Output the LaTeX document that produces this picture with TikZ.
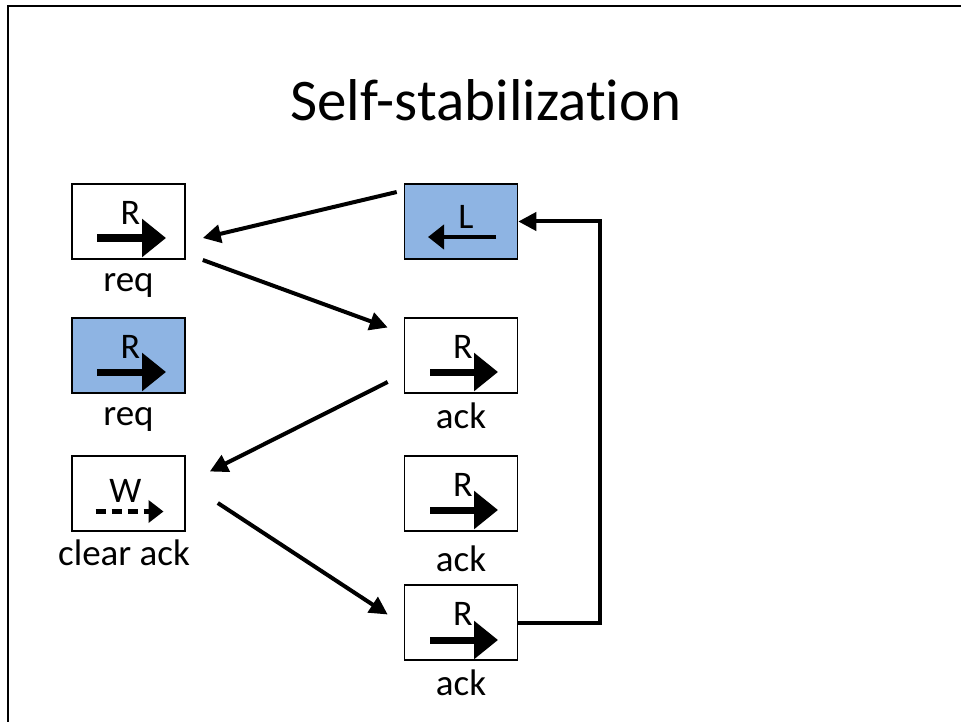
\documentclass[tikz,border=0pt]{standalone}
\usepackage{fontspec}
\setmainfont[Ligatures=NoCommon,RawFeature=-liga]{Carlito}
\usetikzlibrary{arrows.meta,calc}
\definecolor{boxblue}{HTML}{8EB4E3}
\begin{document}
\begin{tikzpicture}[x=1pt,y=-1pt,
  stbox/.style={draw=black,line width=1.6pt,minimum width=113pt,minimum height=75pt,inner sep=0pt,fill=white},
  bluebox/.style={stbox,fill=boxblue},
  lbl/.style={font=\fontsize{37}{40}\selectfont,inner sep=0pt},
  letter/.style={font=\fontsize{36}{38}\selectfont,inner sep=0pt},
  bigarr/.style={line width=7pt,-{Triangle[length=24pt,width=37pt]}},
  smallarr/.style={line width=4.5pt,-{Triangle[length=16pt,width=24pt]}},
  dasharr/.style={line width=4.5pt,dash pattern=on 10pt off 6pt,-{Triangle[length=15pt,width=22pt]}},
  conn/.style={line width=4pt,-{Triangle[length=18pt,width=18pt]}}]
\useasboundingbox (0,0) rectangle (961,722);
\fill[white] (0,0) rectangle (961,722);
\draw[line width=2.5pt] (8,722) -- (8,6) -- (961,6);
\node[font=\fontsize{59}{64}\selectfont] (title) at (486,100) {Self-stabilization};
% boxes
\node[stbox] (A) at (128.5,221.5) {};
\node[bluebox] (B) at (128.5,355.5) {};
\node[stbox] (C) at (128.5,493.5) {};
\node[bluebox] (D) at (461,221.5) {};
\node[stbox] (E) at (461,355.5) {};
\node[stbox] (F) at (461,493.5) {};
\node[stbox] (G) at (461,622.5) {};
% labels below
\node[lbl] (Al) at (128.5,285) {req};
\node[lbl] (Bl) at (128.5,419) {req};
\node[lbl] (Cl) at (124,553) {clear ack};
\node[lbl] (El) at (461,416) {ack};
\node[lbl] (Fl) at (461,559) {ack};
\node[lbl] (Gl) at (461,683) {ack};
% inner letters
\node[letter] (Ar) at ($(A)+(2,-9)$) {R};
\node[letter] (Br) at ($(B)+(2,-9)$) {R};
\node[letter] (Cw) at ($(C)+(-3,-3)$) {W};
\node[letter] (Dl) at ($(D)+(5,-5)$) {L};
\node[letter] (Er) at ($(E)+(2,-9)$) {R};
\node[letter] (Fr) at ($(F)+(2,-9)$) {R};
\node[letter] (Gr) at ($(G)+(2,-9)$) {R};
% inner arrows
\draw[bigarr] ($(A)+(-31.5,16.5)$) -- ($(A)+(37.5,16.5)$);
\draw[bigarr] ($(B)+(-31.5,16.5)$) -- ($(B)+(37.5,16.5)$);
\draw[bigarr] ($(E)+(-31,16.5)$) -- ($(E)+(37,16.5)$);
\draw[bigarr] ($(F)+(-31,16.5)$) -- ($(F)+(37,16.5)$);
\draw[bigarr] ($(G)+(-31,17.5)$) -- ($(G)+(37,17.5)$);
\draw[smallarr] ($(D)+(35,15.5)$) -- ($(D)+(-33,15.5)$);
\draw[dasharr] ($(C)+(-33,18)$) -- ($(C)+(35,18)$);
% connectors
\draw[conn] ($(D.west)+(-7,-29.5)$) -- ($(A.east)+(17,16.5)$);
\draw[conn] ($(A.east)+(17,38.5)$) -- ($(E.west)+(-16,-28)$);
\draw[conn] ($(E.west)+(-16,26.5)$) -- ($(C.east)+(24,-22)$);
\draw[conn] ($(C.east)+(32,9.5)$) -- ($(G.west)+(-16,-8)$);
\draw[conn] (G.east) -- ++(82,0) |- (D.east);
\end{tikzpicture}
\end{document}
